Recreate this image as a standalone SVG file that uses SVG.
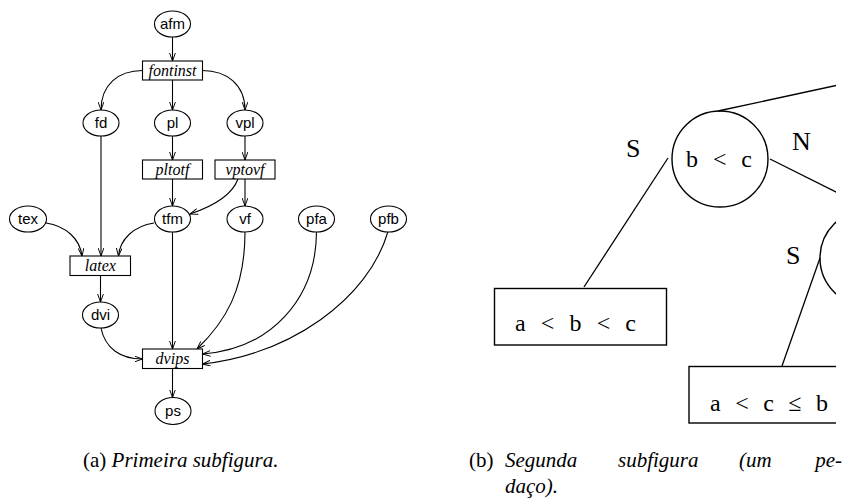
<svg xmlns="http://www.w3.org/2000/svg" width="843" height="504" viewBox="0 0 843 504">
<style>
.n ellipse{fill:#fff;stroke:#000;stroke-width:1.1}
.n rect{fill:#fff;stroke:#000;stroke-width:1.1}
.el{font-family:"Liberation Sans",Arial,sans-serif;font-size:15px;text-anchor:middle;fill:#000}
.bl{font-family:"Liberation Serif","Times New Roman",serif;font-style:italic;font-size:16px;text-anchor:middle;fill:#000}
.e path{fill:none;stroke:#000;stroke-width:1.1;marker-end:url(#arr)}
.t circle,.t rect{fill:none;stroke:#000;stroke-width:1.4}
.t line{stroke:#000;stroke-width:1.3}
.tt{font-family:"Liberation Serif","Times New Roman",serif;font-size:24px;fill:#000}
.tl{font-family:"Liberation Serif","Times New Roman",serif;font-size:26px;fill:#000}
.cap{font-family:"Liberation Serif","Times New Roman",serif;font-size:21px;fill:#000}
.i{font-style:italic}
</style>
<defs>
<marker id="arr" viewBox="0 0 10 8" refX="10" refY="4" markerWidth="8" markerHeight="6.4" orient="auto" markerUnits="userSpaceOnUse">
<path d="M0,0.4 L10,4 L0,7.6" fill="none" stroke="#000" stroke-width="1.2"/>
</marker>
<clipPath id="clipR"><rect x="470" y="0" width="366" height="440"/></clipPath>
</defs>
<rect width="843" height="504" fill="#fff"/>

<g id="connectors" class="e">
<path d="M172.5,37 L172.5,61"/>
<path d="M142.5,70.5 C118,70.5 101,85 101,110"/>
<path d="M172.5,80 L172.5,110"/>
<path d="M202.5,70.5 C227,70.5 245,85 245,110"/>
<path d="M101,136 L101,256"/>
<path d="M172.5,136 L172.5,160"/>
<path d="M245,136 L245,160"/>
<path d="M172.5,179 L172.5,206"/>
<path d="M245,179 L245,206"/>
<path d="M238,179 C232,195 214,206 190,214"/>
<path d="M46,223 C66,226 80,239 82,256"/>
<path d="M154,223 C134,226 120,239 118.5,256"/>
<path d="M100.5,275.5 L100.5,302"/>
<path d="M172.5,232 L172.5,349"/>
<path d="M245,232 C245,290 225,322 197,349"/>
<path d="M316.5,232 C316,300 270,349 202.5,354"/>
<path d="M388,231.5 C368,300 290,354 202.5,364"/>
<path d="M101,328 C105,348 120,359 142.5,359"/>
<path d="M172.5,368.5 L172.5,397.5"/>
</g>

<g id="afm" class="n"><ellipse cx="172.5" cy="24" rx="18" ry="13"/><text class="el" x="172.5" y="29">afm</text></g>
<g id="fontinst" class="n"><rect x="142.5" y="61" width="60" height="19"/><text class="bl" x="172.5" y="75.5">fontinst</text></g>
<g id="fd" class="n"><ellipse cx="101" cy="123" rx="18" ry="13"/><text class="el" x="101" y="128">fd</text></g>
<g id="pl" class="n"><ellipse cx="172.5" cy="123" rx="18" ry="13"/><text class="el" x="172.5" y="128">pl</text></g>
<g id="vpl" class="n"><ellipse cx="245" cy="123" rx="18" ry="13"/><text class="el" x="245" y="128">vpl</text></g>
<g id="pltotf" class="n"><rect x="142.5" y="160" width="60" height="19"/><text class="bl" x="172.5" y="174.5">pltotf</text></g>
<g id="vptovf" class="n"><rect x="215" y="160" width="60" height="19"/><text class="bl" x="245" y="174.5">vptovf</text></g>
<g id="tex" class="n"><ellipse cx="28" cy="219" rx="18.5" ry="13"/><text class="el" x="28" y="224">tex</text></g>
<g id="tfm" class="n"><ellipse cx="172.5" cy="219" rx="18" ry="13"/><text class="el" x="172.5" y="224">tfm</text></g>
<g id="vf" class="n"><ellipse cx="245" cy="219" rx="18" ry="13"/><text class="el" x="245" y="224">vf</text></g>
<g id="pfa" class="n"><ellipse cx="316.5" cy="219" rx="18" ry="13"/><text class="el" x="316.5" y="224">pfa</text></g>
<g id="pfb" class="n"><ellipse cx="388.5" cy="219" rx="18" ry="13"/><text class="el" x="388.5" y="224">pfb</text></g>
<g id="latex" class="n"><rect x="70" y="256" width="60.5" height="19.5"/><text class="bl" x="100.3" y="270.5">latex</text></g>
<g id="dvi" class="n"><ellipse cx="100.5" cy="315" rx="18" ry="13"/><text class="el" x="100.5" y="320">dvi</text></g>
<g id="dvips" class="n"><rect x="142.5" y="349" width="60" height="19.5"/><text class="bl" x="172.5" y="363.5">dvips</text></g>
<g id="ps" class="n"><ellipse cx="173" cy="411" rx="18" ry="13.5"/><text class="el" x="173" y="416">ps</text></g>

<g id="tree" class="t" clip-path="url(#clipR)">
<g id="tree-edges">
<line x1="718" y1="111" x2="850" y2="82.5"/>
<line x1="668" y1="158" x2="584" y2="287"/>
<line x1="770" y1="159" x2="850" y2="199"/>
<line x1="820" y1="258" x2="782" y2="366"/>
</g>
<g id="bc"><circle cx="720" cy="159" r="48"/><text class="tt" x="686" y="167" textLength="66" lengthAdjust="spacing">b &lt; c</text></g>
<g id="c2"><circle cx="868" cy="258" r="48"/></g>
<g id="abc"><rect x="494.5" y="288.5" width="172" height="56.5"/><text class="tt" x="515" y="331" textLength="121" lengthAdjust="spacing">a &lt; b &lt; c</text></g>
<g id="acb"><rect x="689" y="366.5" width="200" height="56.5"/><text class="tt" x="710" y="411" textLength="118" lengthAdjust="spacing">a &lt; c ≤ b</text></g>
<text class="tl" x="626" y="157">S</text>
<text class="tl" x="792" y="150">N</text>
<text class="tl" x="786" y="264">S</text>
</g>

<g id="captions">
<text class="cap" x="83" y="467">(a) <tspan class="i">Primeira subfigura.</tspan></text>
<text class="cap" y="467"><tspan x="469">(b)</tspan><tspan class="i" x="505">Segunda</tspan><tspan class="i" x="618">subfigura</tspan><tspan class="i" x="739">(um</tspan><tspan class="i" x="842" text-anchor="end">pe-</tspan></text>
<text class="cap i" x="505" y="493">daço).</text>
</g>
</svg>
